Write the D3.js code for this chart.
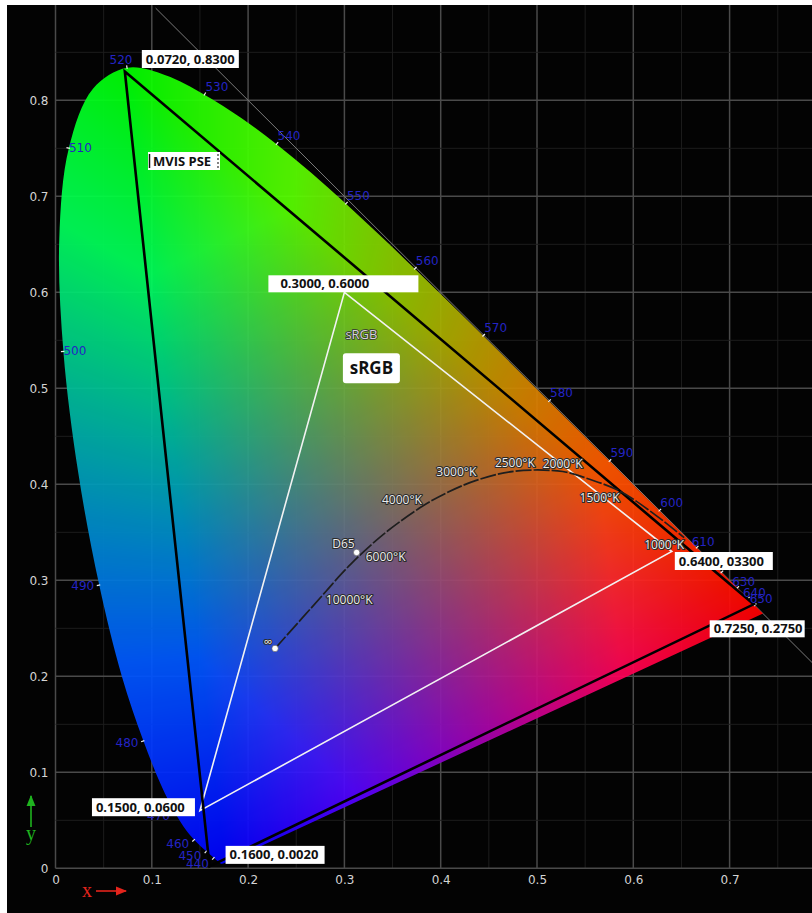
<!DOCTYPE html>
<html>
<head>
<meta charset="utf-8">
<script src="https://cdn.jsdelivr.net/npm/d3@7"></script>
<style>
  html, body { margin: 0; padding: 0; background: #ffffff; }
  svg { display: block; }
</style>
</head>
<body>
<svg id="chart" width="812" height="913"></svg>
<script>
// CIE 1931 2° spectral locus (chromaticity x, y), 380–700 nm in 5 nm steps
const wavelengths = [380,385,390,395,400,405,410,415,420,425,430,435,440,445,450,455,460,465,470,475,
  480,485,490,495,500,505,510,515,520,525,530,535,540,545,550,555,560,565,570,575,580,585,590,595,
  600,605,610,615,620,625,630,635,640,645,650,655,660,665,670,675,680,685,690,695,700];
const locusX = [0.1741,0.1740,0.1738,0.1736,0.1733,0.1730,0.1726,0.1721,0.1714,0.1703,0.1689,0.1669,0.1644,0.1611,0.1566,0.1510,0.1440,0.1355,0.1241,0.1096,
  0.0913,0.0687,0.0454,0.0235,0.0082,0.0039,0.0139,0.0389,0.0743,0.1142,0.1547,0.1929,0.2296,0.2658,0.3016,0.3373,0.3731,0.4087,0.4441,0.4788,0.5125,0.5448,0.5752,0.6029,
  0.6270,0.6482,0.6658,0.6801,0.6915,0.7006,0.7079,0.7140,0.7190,0.7230,0.7260,0.7283,0.7300,0.7311,0.7320,0.7327,0.7334,0.7340,0.7344,0.7346,0.7347];
const locusY = [0.0050,0.0050,0.0049,0.0049,0.0048,0.0048,0.0048,0.0048,0.0051,0.0058,0.0069,0.0086,0.0109,0.0138,0.0177,0.0227,0.0297,0.0399,0.0578,0.0868,
  0.1327,0.2007,0.2950,0.4127,0.5384,0.6548,0.7502,0.8120,0.8338,0.8262,0.8059,0.7816,0.7543,0.7243,0.6923,0.6589,0.6245,0.5896,0.5547,0.5202,0.4866,0.4544,0.4242,0.3965,
  0.3725,0.3514,0.3340,0.3197,0.3083,0.2993,0.2920,0.2859,0.2809,0.2770,0.2740,0.2717,0.2700,0.2689,0.2680,0.2673,0.2666,0.2660,0.2656,0.2654,0.2653];

// Wavelengths that carry a label on the locus
const waveLabels = [440,450,460,470,480,490,500,510,520,530,540,550,560,570,580,590,600,610,620,630,640,650];

// Black-body (Planckian) locus, from infinite temperature down to 1000 K
const planckTemps = [Infinity,10000,8000,7000,6000,5000,4000,3500,3000,2500,2000,1750,1500,1250,1000];
const planckX = [0.2280,0.2807,0.2952,0.3064,0.3221,0.3451,0.3805,0.4053,0.4369,0.4770,0.5267,0.5546,0.5857,0.6190,0.6528];
const planckY = [0.2290,0.2883,0.3048,0.3166,0.3318,0.3516,0.3768,0.3907,0.4041,0.4137,0.4133,0.4052,0.3931,0.3710,0.3444];
const tempLabels = [10000,6000,4000,3000,2500,2000,1500,1000];

// Reference white D65
const whiteX = [0.3127];
const whiteY = [0.3290];

// Gamut triangles
const mvisX = [0.072, 0.725, 0.160];
const mvisY = [0.830, 0.275, 0.002];
const mvisText = ["0.0720, 0.8300", "0.7250, 0.2750", "0.1600, 0.0020"];
const srgbX = [0.64, 0.30, 0.15];
const srgbY = [0.33, 0.60, 0.06];
const srgbText = ["0.6400, 03300", "0.3000, 0.6000", "0.1500, 0.0600"];

// Axis ticks
const xTicks = [0, 0.1, 0.2, 0.3, 0.4, 0.5, 0.6, 0.7];
const yTicks = [0, 0.1, 0.2, 0.3, 0.4, 0.5, 0.6, 0.7, 0.8];

// ---------------------------------------------------------------------------
const W = 812, H = 913;
const x = d3.scaleLinear().domain([0, 0.8]).range([55.5, 55.5 + 963 * 0.8]);
const y = d3.scaleLinear().domain([0, 0.9]).range([868.3, 868.3 - 864]);
const plotTop = 5, plotRight = W;

const svg = d3.select("#chart");
const defs = svg.append("defs");

// dark plotting surface
svg.append("rect").attr("x", 7).attr("y", 5).attr("width", W - 7).attr("height", H - 5).attr("fill", "#030303");

// grid: minor every 0.05, major every 0.1
const grid = svg.append("g");
const vGrid = d3.range(0, 16).map(i => i * 0.05);
const hGrid = d3.range(0, 18).map(i => i * 0.05);
const isMajor = v => Math.round(v * 100) % 10 === 0;
grid.selectAll("line.v").data(vGrid).join("line")
  .attr("x1", d => x(d)).attr("x2", d => x(d))
  .attr("y1", plotTop).attr("y2", y(0))
  .attr("stroke", d => isMajor(d) ? "#4a4a4a" : "#1d1d1d")
  .attr("stroke-width", d => isMajor(d) ? 1.5 : 1);
grid.selectAll("line.h").data(hGrid).join("line")
  .attr("x1", x(0)).attr("x2", plotRight)
  .attr("y1", d => y(d)).attr("y2", d => y(d))
  .attr("stroke", d => isMajor(d) ? "#4a4a4a" : "#1d1d1d")
  .attr("stroke-width", d => isMajor(d) ? 1.5 : 1);

// x + y = 1 boundary line
svg.append("line")
  .attr("x1", x(0.104)).attr("y1", y(0.896))
  .attr("x2", x(0.80)).attr("y2", y(0.20))
  .attr("stroke", "#7a7a7a").attr("stroke-width", 1);

// ---------------------------------------------------------------------------
// colour field of the chromaticity diagram, computed pixel by pixel
const locusPts = locusX.map((v, i) => [v, locusY[i]]);
const locusLine = d3.line().x(d => x(d[0])).y(d => y(d[1])).curve(d3.curveCatmullRom.alpha(0.5));
defs.append("clipPath").attr("id", "locusClip")
  .append("path").attr("d", locusLine(locusPts) + "Z");

// weights relative to the red (700 nm), green (520 nm) and violet (380 nm) corners
const vR = locusPts[wavelengths.indexOf(700)];
const vG = locusPts[wavelengths.indexOf(520)];
const vB = locusPts[wavelengths.indexOf(380)];
const det = (vG[1] - vB[1]) * (vR[0] - vB[0]) + (vB[0] - vG[0]) * (vR[1] - vB[1]);
function chromaColor(cx, cy) {
  let wr = ((vG[1] - vB[1]) * (cx - vB[0]) + (vB[0] - vG[0]) * (cy - vB[1])) / det;
  let wg = ((vB[1] - vR[1]) * (cx - vB[0]) + (vR[0] - vB[0]) * (cy - vB[1])) / det;
  let wb = 1 - wr - wg;
  wr = Math.max(wr, 0); wg = Math.max(wg, 0); wb = Math.max(wb, 0);
  const s = wr + wg + wb || 1;
  const k = 1.35;
  return [wr, wg, wb].map(c => Math.round(255 * Math.min(1, (c / s) * k)));
}

const fx0 = 50, fx1 = 772, fy0 = 60, fy1 = 870;
const cw = fx1 - fx0, ch = fy1 - fy0;
const canvas = document.createElement("canvas");
canvas.width = cw; canvas.height = ch;
const ctx = canvas.getContext("2d");
const img = ctx.createImageData(cw, ch);
for (let j = 0; j < ch; j++) {
  const cy = y.invert(fy0 + j + 0.5);
  for (let i = 0; i < cw; i++) {
    const cx = x.invert(fx0 + i + 0.5);
    const [r, g, b] = chromaColor(cx, cy);
    const o = (j * cw + i) * 4;
    img.data[o] = r; img.data[o + 1] = g; img.data[o + 2] = b; img.data[o + 3] = 255;
  }
}
ctx.putImageData(img, 0, 0);
svg.append("image")
  .attr("x", fx0).attr("y", fy0).attr("width", cw).attr("height", ch)
  .attr("href", canvas.toDataURL())
  .attr("clip-path", "url(#locusClip)")
  .attr("opacity", 0.93);

// small white ticks at labelled wavelengths
const centre = [0.33, 0.33];
const tickG = svg.append("g");
waveLabels.forEach(w => {
  const i = wavelengths.indexOf(w);
  const p = locusPts[i], a = locusPts[i - 1], c = locusPts[i + 1];
  const px = x(p[0]), py = y(p[1]);
  let tx = x(c[0]) - x(a[0]), ty = y(c[1]) - y(a[1]);
  const len = Math.hypot(tx, ty) || 1;
  let nx = -ty / len, ny = tx / len;
  if (nx * (px - x(centre[0])) + ny * (py - y(centre[1])) < 0) { nx = -nx; ny = -ny; }
  tickG.append("line")
    .attr("x1", px - nx * 1).attr("y1", py - ny * 1)
    .attr("x2", px + nx * 2.5).attr("y2", py + ny * 2.5)
    .attr("stroke", "#f0f0f0").attr("stroke-width", 1.2);
});

// ---------------------------------------------------------------------------
// gamut triangles
const triLine = d3.line().x(d => x(d[0])).y(d => y(d[1]));
const srgbPts = srgbX.map((v, i) => [v, srgbY[i]]);
const mvisPts = mvisX.map((v, i) => [v, mvisY[i]]);
svg.append("path").attr("d", triLine(srgbPts) + "Z")
  .attr("fill", "none").attr("stroke", "#f2f2f2").attr("stroke-width", 1.6);
svg.append("path").attr("d", triLine(mvisPts) + "Z")
  .attr("fill", "none").attr("stroke", "#000").attr("stroke-width", 2.6)
  .attr("stroke-linejoin", "miter");

// black-body locus
const planckPts = planckX.map((v, i) => [v, planckY[i]]);
svg.append("path")
  .attr("d", d3.line().x(d => x(d[0])).y(d => y(d[1])).curve(d3.curveCatmullRom)(planckPts))
  .attr("fill", "none").attr("stroke", "#1e1e1e").attr("stroke-width", 1.7)
  .attr("stroke-dasharray", "16,2");

// white point and infinite-temperature markers
const haloText = sel => sel
  .attr("font-family", "'Open Sans', sans-serif").attr("font-size", 12)
  .attr("fill", "#ececec").attr("stroke", "#2b2b2b").attr("stroke-width", 2.2)
  .attr("paint-order", "stroke").attr("stroke-linejoin", "round");

svg.append("circle").attr("cx", x(planckX[0])).attr("cy", y(planckY[0])).attr("r", 3.2)
  .attr("fill", "#fff").attr("stroke", "#555").attr("stroke-width", 0.6);
svg.append("circle").attr("cx", x(whiteX[0])).attr("cy", y(whiteY[0])).attr("r", 3.2)
  .attr("fill", "#fff").attr("stroke", "#555").attr("stroke-width", 0.6);
svg.append("text").call(haloText)
  .attr("x", x(planckX[0]) - 3).attr("y", y(planckY[0]) - 2)
  .attr("text-anchor", "end").text("∞");
svg.append("text").call(haloText)
  .attr("x", x(whiteX[0]) - 2).attr("y", y(whiteY[0]) - 4)
  .attr("text-anchor", "end").text("D65");

// temperature labels
const tempPlace = {
  10000: { a: "start", dx: 0, dy: 12 },
  6000: { a: "start", dx: 0, dy: 11 },
  4000: { a: "end", dx: 0, dy: -3 },
  3000: { a: "end", dx: 0, dy: -4 },
  2500: { a: "middle", dx: 0, dy: -4 },
  2000: { a: "middle", dx: 0, dy: -4 },
  1500: { a: "end", dx: 0, dy: 11 },
  1000: { a: "end", dx: 0, dy: 11 }
};
tempLabels.forEach(t => {
  const i = planckTemps.indexOf(t);
  const pl = tempPlace[t];
  svg.append("text").call(haloText)
    .attr("x", x(planckX[i]) + pl.dx).attr("y", y(planckY[i]) + pl.dy)
    .attr("text-anchor", pl.a).text(t + "°K");
});

// wavelength labels
const waveG = svg.append("g")
  .attr("font-family", "'DejaVu Sans', sans-serif").attr("font-size", 12).attr("fill", "#2424c4");
waveLabels.forEach(w => {
  const i = wavelengths.indexOf(w);
  const px = x(locusX[i]), py = y(locusY[i]);
  let anchor = "start", dx = 1, dy = -4;
  if (w <= 490) { anchor = "end"; dx = -5; dy = 5 + (490 - w) / 10; }
  else if (w <= 510) { dx = 0; dy = 4; }
  else if (w === 520) { anchor = "middle"; dx = -6; dy = -4; }
  else if (w >= 610) { dx = -5; dy = -2; }
  waveG.append("text").attr("x", px + dx).attr("y", py + dy)
    .attr("text-anchor", anchor).text(w);
});

// sRGB captions
svg.append("text")
  .attr("x", x(0.30) + 1).attr("y", y(0.60) + 47)
  .attr("font-family", "'Open Sans', sans-serif").attr("font-size", 13)
  .attr("fill", "#d6d6d6").attr("stroke", "#333").attr("stroke-width", 1.6)
  .attr("paint-order", "stroke").text("sRGB");
svg.append("rect")
  .attr("x", x(0.30) - 1.5).attr("y", y(0.60) + 61).attr("width", 57).attr("height", 30)
  .attr("rx", 3).attr("fill", "#fff");
svg.append("text")
  .attr("x", x(0.30) + 27).attr("y", y(0.60) + 82)
  .attr("text-anchor", "middle")
  .attr("font-family", "'Open Sans', sans-serif").attr("font-weight", 700).attr("font-size", 17)
  .attr("fill", "#111").text("sRGB");

// MVIS PSE caption
const mv = svg.append("g");
mv.append("rect").attr("x", 148).attr("y", 152).attr("width", 72).attr("height", 18).attr("fill", "#fff");
mv.append("line").attr("x1", 149.5).attr("x2", 149.5).attr("y1", 154).attr("y2", 168)
  .attr("stroke", "#111").attr("stroke-width", 1.5);
mv.append("line").attr("x1", 218).attr("x2", 218).attr("y1", 154).attr("y2", 168)
  .attr("stroke", "#333").attr("stroke-width", 1.2).attr("stroke-dasharray", "2,2");
mv.append("text").attr("x", 153).attr("y", 166)
  .attr("font-family", "'Open Sans', sans-serif").attr("font-weight", 700).attr("font-size", 13)
  .attr("fill", "#111").text("MVIS PSE");

// vertex coordinate boxes (offsets relative to each vertex)
const boxPlace = [
  { px: mvisPts[0], t: mvisText[0], dx: 17, dy: -21.5, w: 97, h: 18, tx: 4 },
  { px: mvisPts[1], t: mvisText[1], dx: -44, dy: 16, w: 95, h: 17, tx: 4 },
  { px: mvisPts[2], t: mvisText[2], dx: 16, dy: -20.5, w: 99, h: 18, tx: 4 },
  { px: srgbPts[0], t: srgbText[0], dx: 3, dy: 0.5, w: 98, h: 18, tx: 4 },
  { px: srgbPts[1], t: srgbText[1], dx: -76, dy: -17, w: 150, h: 17, tx: 12 },
  { px: srgbPts[2], t: srgbText[2], dx: -108, dy: -12.5, w: 103, h: 18, tx: 4 }
];
boxPlace.forEach(b => {
  const bx = x(b.px[0]) + b.dx, by = y(b.px[1]) + b.dy;
  svg.append("rect").attr("x", bx).attr("y", by).attr("width", b.w).attr("height", b.h)
    .attr("fill", "#fff");
  svg.append("text").attr("x", bx + b.tx).attr("y", by + b.h / 2 + 4.6)
    .attr("font-family", "'Open Sans', sans-serif").attr("font-weight", 700).attr("font-size", 13)
    .attr("fill", "#111").text(b.t);
});

// ---------------------------------------------------------------------------
// axes
const fmt = d => d === 0 ? "0" : d3.format(".1f")(d);
const xAxis = svg.append("g").attr("transform", `translate(0,${y(0)})`)
  .call(d3.axisBottom(x).tickValues(xTicks).tickSize(0).tickPadding(7).tickFormat(fmt));
const yAxis = svg.append("g").attr("transform", `translate(${x(0)},0)`)
  .call(d3.axisLeft(y).tickValues(yTicks).tickSize(0).tickPadding(7).tickFormat(fmt));
[xAxis, yAxis].forEach(a => {
  a.select(".domain").remove();
  a.selectAll("text").attr("fill", "#d4d4d4")
    .attr("font-family", "'DejaVu Sans', sans-serif").attr("font-size", 12);
});

// axis direction markers
defs.append("marker").attr("id", "arrRed").attr("viewBox", "0 0 10 10").attr("refX", 9).attr("refY", 5)
  .attr("markerWidth", 7).attr("markerHeight", 7).attr("orient", "auto")
  .append("path").attr("d", "M0,1 L10,5 L0,9 Z").attr("fill", "#e4241c");
defs.append("marker").attr("id", "arrGreen").attr("viewBox", "0 0 10 10").attr("refX", 9).attr("refY", 5)
  .attr("markerWidth", 7).attr("markerHeight", 7).attr("orient", "auto")
  .append("path").attr("d", "M0,1 L10,5 L0,9 Z").attr("fill", "#1fb31f");
svg.append("text").attr("x", 82).attr("y", 897)
  .attr("font-family", "'Liberation Serif', serif").attr("font-size", 20)
  .attr("fill", "#e4241c").text("x");
svg.append("line").attr("x1", 96).attr("y1", 891).attr("x2", 126).attr("y2", 891)
  .attr("stroke", "#e4241c").attr("stroke-width", 1.6).attr("marker-end", "url(#arrRed)");
svg.append("text").attr("x", 26).attr("y", 840)
  .attr("font-family", "'Liberation Serif', serif").attr("font-size", 20)
  .attr("fill", "#1fb31f").text("y");
svg.append("line").attr("x1", 31).attr("y1", 827).attr("x2", 31).attr("y2", 796)
  .attr("stroke", "#1fb31f").attr("stroke-width", 1.6).attr("marker-end", "url(#arrGreen)");
</script>
</body>
</html>
